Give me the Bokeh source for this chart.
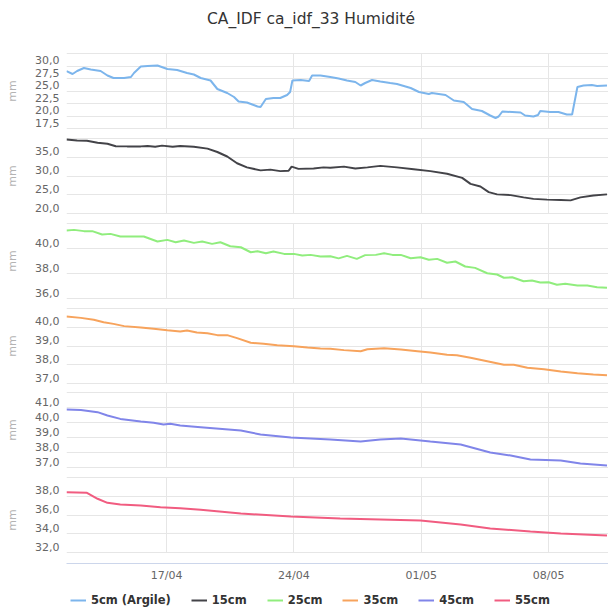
import pandas as pd
from bokeh.plotting import figure
from bokeh.layouts import column
from bokeh.models import (Range1d, FixedTicker, Grid, DatetimeTickFormatter,
                          CustomJSTickFormatter, Legend, LegendItem, Label)
from bokeh.embed import file_html
from bokeh.resources import INLINE

TITLE = "CA_IDF ca_idf_33 Humidité"
names = ["5cm (Argile)", "15cm", "25cm", "35cm", "45cm", "55cm"]
colors = ["#7cb5ec", "#434348", "#90ed7d", "#f7a35c", "#8085e9", "#f15c80"]
tick_dates = ["2023-04-17", "2023-04-24", "2023-05-01", "2023-05-08"]
tick_labels = ["17/04", "24/04", "01/05", "08/05"]
x_start, x_end = "2023-04-11 12:00", "2023-05-11 07:00"

t_5 = ["2023-04-11 12:00", "2023-04-11 20:00", "2023-04-12 02:00", "2023-04-12 11:00", "2023-04-12 20:00",
       "2023-04-13 09:00", "2023-04-13 18:00", "2023-04-14 02:00", "2023-04-14 16:00", "2023-04-15 01:00",
       "2023-04-15 05:00", "2023-04-15 14:00", "2023-04-15 23:00", "2023-04-16 12:00", "2023-04-17 01:00",
       "2023-04-17 14:00", "2023-04-18 03:00", "2023-04-18 12:00", "2023-04-18 21:00", "2023-04-19 10:00",
       "2023-04-19 19:00", "2023-04-20 08:00", "2023-04-20 17:00", "2023-04-20 23:00", "2023-04-21 10:00",
       "2023-04-22 00:00", "2023-04-22 04:00", "2023-04-22 11:00", "2023-04-22 21:00", "2023-04-23 06:00",
       "2023-04-23 15:00", "2023-04-23 19:00", "2023-04-23 22:00", "2023-04-24 09:00", "2023-04-24 20:00",
       "2023-04-25 00:00", "2023-04-25 11:00", "2023-04-26 00:00", "2023-04-26 11:00", "2023-04-26 22:00",
       "2023-04-27 09:00", "2023-04-27 16:00", "2023-04-27 22:00", "2023-04-28 07:00", "2023-04-28 18:00",
       "2023-04-29 07:00", "2023-04-29 16:00", "2023-04-30 10:00", "2023-04-30 21:00", "2023-05-01 10:00",
       "2023-05-01 14:00", "2023-05-02 08:00", "2023-05-02 19:00", "2023-05-03 08:00", "2023-05-03 19:00",
       "2023-05-04 08:00", "2023-05-04 19:00", "2023-05-05 02:00", "2023-05-05 06:00", "2023-05-05 11:00",
       "2023-05-06 00:00", "2023-05-06 11:00", "2023-05-06 17:00", "2023-05-07 04:00", "2023-05-07 10:00",
       "2023-05-07 13:00", "2023-05-08 02:00", "2023-05-08 13:00", "2023-05-09 00:00", "2023-05-09 07:00",
       "2023-05-09 14:00", "2023-05-09 22:00", "2023-05-10 09:00", "2023-05-10 16:00", "2023-05-11 05:00"]
v_5 = [28.96, 28.4, 29.0, 29.6, 29.3, 29.0, 28.1, 27.6, 27.6, 27.8,
       28.6, 29.9, 30.0, 30.1, 29.4, 29.2, 28.6, 28.3, 27.6, 27.1,
       25.4, 24.6, 23.8, 22.9, 22.7, 21.9, 21.8, 23.4, 23.6, 23.6,
       24.2, 24.8, 27.1, 27.2, 27.0, 28.1, 28.1, 27.8, 27.5, 27.1,
       26.8, 26.1, 26.6, 27.2, 26.9, 26.6, 26.4, 25.6, 24.8, 24.4,
       24.6, 24.2, 23.1, 22.8, 21.4, 21.0, 20.1, 19.6, 19.9, 20.9,
       20.8, 20.7, 20.1, 19.9, 20.2, 21.0, 20.8, 20.8, 20.3, 20.3,
       25.8, 26.1, 26.2, 26.0, 26.1]

t_15 = ["2023-04-11 12:00", "2023-04-12 02:00", "2023-04-12 15:00", "2023-04-13 05:00", "2023-04-13 18:00",
        "2023-04-14 05:00", "2023-04-14 20:00", "2023-04-15 14:00", "2023-04-15 23:00", "2023-04-16 09:00",
        "2023-04-16 18:00", "2023-04-17 08:00", "2023-04-17 18:00", "2023-04-18 12:00", "2023-04-19 06:00",
        "2023-04-19 19:00", "2023-04-20 08:00", "2023-04-20 21:00", "2023-04-21 10:00", "2023-04-22 04:00",
        "2023-04-22 17:00", "2023-04-23 06:00", "2023-04-23 17:00", "2023-04-23 21:00", "2023-04-24 06:00",
        "2023-04-25 02:00", "2023-04-25 15:00", "2023-04-26 00:00", "2023-04-26 18:00", "2023-04-27 09:00",
        "2023-04-28 01:00", "2023-04-28 18:00", "2023-04-29 16:00", "2023-04-30 14:00", "2023-05-01 12:00",
        "2023-05-02 10:00", "2023-05-03 06:00", "2023-05-03 17:00", "2023-05-04 06:00", "2023-05-04 17:00",
        "2023-05-05 04:00", "2023-05-05 22:00", "2023-05-06 15:00", "2023-05-07 04:00", "2023-05-07 22:00",
        "2023-05-08 16:00", "2023-05-09 05:00", "2023-05-09 18:00", "2023-05-10 11:00", "2023-05-11 05:00"]
v_15 = [39.73, 39.47, 39.4, 38.85, 38.6, 37.95, 37.9, 37.9, 38.0, 37.8,
        38.1, 37.8, 38.0, 37.8, 37.3, 36.4, 35.2, 33.4, 32.3, 31.5,
        31.7, 31.3, 31.4, 32.5, 31.9, 32.0, 32.3, 32.2, 32.5, 32.0,
        32.3, 32.7, 32.3, 31.8, 31.3, 30.6, 29.5, 27.9, 27.2, 25.7,
        25.1, 24.9, 24.3, 23.9, 23.7, 23.6, 23.5, 24.3, 24.8, 25.1]

t_25 = ["2023-04-11 12:00", "2023-04-11 22:00", "2023-04-12 11:00", "2023-04-12 22:00", "2023-04-13 11:00",
        "2023-04-13 22:00", "2023-04-14 11:00", "2023-04-15 18:00", "2023-04-16 12:00", "2023-04-17 01:00",
        "2023-04-17 12:00", "2023-04-17 23:00", "2023-04-18 12:00", "2023-04-18 23:00", "2023-04-19 12:00",
        "2023-04-19 23:00", "2023-04-20 12:00", "2023-04-21 02:00", "2023-04-21 15:00", "2023-04-22 00:00",
        "2023-04-22 11:00", "2023-04-22 21:00", "2023-04-23 11:00", "2023-04-24 00:00", "2023-04-24 11:00",
        "2023-04-24 22:00", "2023-04-25 11:00", "2023-04-26 00:00", "2023-04-26 11:00", "2023-04-26 22:00",
        "2023-04-27 11:00", "2023-04-27 22:00", "2023-04-28 12:00", "2023-04-28 23:00", "2023-04-29 10:00",
        "2023-04-29 21:00", "2023-04-30 10:00", "2023-04-30 23:00", "2023-05-01 10:00", "2023-05-01 21:00",
        "2023-05-02 10:00", "2023-05-02 21:00", "2023-05-03 10:00", "2023-05-03 23:00", "2023-05-04 15:00",
        "2023-05-05 04:00", "2023-05-05 13:00", "2023-05-06 00:00", "2023-05-06 15:00", "2023-05-07 02:00",
        "2023-05-07 13:00", "2023-05-08 00:00", "2023-05-08 11:00", "2023-05-08 22:00", "2023-05-09 14:00",
        "2023-05-10 03:00", "2023-05-10 16:00", "2023-05-11 05:00"]
v_25 = [41.44, 41.49, 41.39, 41.39, 41.12, 41.17, 40.96, 40.96, 40.56, 40.69,
        40.5, 40.64, 40.45, 40.56, 40.37, 40.5, 40.18, 40.1, 39.7, 39.78,
        39.62, 39.76, 39.57, 39.57, 39.44, 39.49, 39.36, 39.38, 39.21, 39.41,
        39.17, 39.47, 39.49, 39.62, 39.49, 39.49, 39.22, 39.3, 39.1, 39.17,
        38.86, 38.96, 38.56, 38.45, 38.02, 37.92, 37.66, 37.7, 37.38, 37.44,
        37.28, 37.3, 37.1, 37.18, 37.04, 37.04, 36.9, 36.86]

t_35 = ["2023-04-11 12:00", "2023-04-12 07:00", "2023-04-13 00:00", "2023-04-13 13:00", "2023-04-14 02:00",
        "2023-04-14 16:00", "2023-04-15 14:00", "2023-04-16 07:00", "2023-04-17 01:00", "2023-04-17 18:00",
        "2023-04-18 03:00", "2023-04-18 16:00", "2023-04-19 06:00", "2023-04-19 19:00", "2023-04-20 08:00",
        "2023-04-20 21:00", "2023-04-21 15:00", "2023-04-22 08:00", "2023-04-23 02:00", "2023-04-24 00:00",
        "2023-04-24 18:00", "2023-04-25 11:00", "2023-04-26 00:00", "2023-04-26 18:00", "2023-04-27 16:00",
        "2023-04-28 01:00", "2023-04-28 23:00", "2023-04-29 21:00", "2023-04-30 19:00", "2023-05-01 12:00",
        "2023-05-02 10:00", "2023-05-02 23:00", "2023-05-03 17:00", "2023-05-04 15:00", "2023-05-05 13:00",
        "2023-05-06 02:00", "2023-05-06 20:00", "2023-05-07 18:00", "2023-05-08 16:00", "2023-05-09 14:00",
        "2023-05-10 11:00", "2023-05-11 05:00"]
v_35 = [40.57, 40.5, 40.4, 40.27, 40.18, 40.06, 39.99, 39.92, 39.84, 39.77,
        39.83, 39.72, 39.68, 39.58, 39.58, 39.42, 39.17, 39.12, 39.04, 38.99,
        38.92, 38.87, 38.85, 38.78, 38.72, 38.83, 38.88, 38.81, 38.72, 38.65,
        38.53, 38.51, 38.37, 38.19, 38.0, 38.0, 37.84, 37.76, 37.64, 37.55,
        37.48, 37.44]

t_45 = ["2023-04-11 12:00", "2023-04-12 07:00", "2023-04-13 05:00", "2023-04-13 18:00", "2023-04-14 11:00",
        "2023-04-15 14:00", "2023-04-16 07:00", "2023-04-16 20:00", "2023-04-17 05:00", "2023-04-17 18:00",
        "2023-04-18 21:00", "2023-04-21 02:00", "2023-04-22 04:00", "2023-04-23 20:00", "2023-04-26 00:00",
        "2023-04-27 16:00", "2023-04-28 18:00", "2023-04-29 21:00", "2023-05-01 12:00", "2023-05-03 04:00",
        "2023-05-04 19:00", "2023-05-05 22:00", "2023-05-07 00:00", "2023-05-08 16:00", "2023-05-09 18:00",
        "2023-05-11 05:00"]
v_45 = [40.87, 40.84, 40.69, 40.47, 40.24, 40.07, 39.98, 39.87, 39.91, 39.8,
        39.69, 39.47, 39.2, 39.0, 38.87, 38.73, 38.87, 38.93, 38.73, 38.53,
        38.0, 37.8, 37.53, 37.47, 37.27, 37.13]

t_55 = ["2023-04-11 12:00", "2023-04-12 15:00", "2023-04-13 05:00", "2023-04-13 18:00", "2023-04-14 11:00",
        "2023-04-15 14:00", "2023-04-16 16:00", "2023-04-17 18:00", "2023-04-18 21:00", "2023-04-21 02:00",
        "2023-04-23 20:00", "2023-04-26 13:00", "2023-04-28 18:00", "2023-04-30 23:00", "2023-05-03 04:00",
        "2023-05-04 19:00", "2023-05-07 00:00", "2023-05-08 16:00", "2023-05-11 05:00"]
v_55 = [38.43, 38.37, 37.73, 37.3, 37.12, 37.01, 36.83, 36.73, 36.55, 36.16,
        35.84, 35.63, 35.52, 35.41, 34.99, 34.56, 34.24, 34.03, 33.81]

yticks_5 = [17.5, 20, 22.5, 25, 27.5, 30, 32.5]
yticks_15 = [20, 25, 30, 35, 40]
yticks_25 = [36, 38, 40, 42]
yticks_35 = [37, 38, 39, 40, 41]
yticks_45 = [37, 38, 39, 40, 41, 42]
yticks_55 = [32, 34, 36, 38, 40]

series = [(t_5, v_5, yticks_5), (t_15, v_15, yticks_15), (t_25, v_25, yticks_25),
          (t_35, v_35, yticks_35), (t_45, v_45, yticks_45), (t_55, v_55, yticks_55)]

FONT = "DejaVu Sans"
GRID = "#e6e6e6"
BAND = 75            # pixel height of each panel's tick span
band_tops = [53, 138, 223, 308, 392, 477]
FRAME_W = 542
LEFT = 66
TITLE_H = 36
TITLE_CX = 310.5     # title centre on the page
LABEL_RAISE = 6      # y labels sit just above their grid line

x_ticks = [pd.Timestamp(d).value // 10**6 for d in tick_dates]
x_range = Range1d(pd.Timestamp(x_start), pd.Timestamp(x_end))


def strip(height):
    f = figure(frame_width=FRAME_W, frame_height=height, x_range=x_range, y_range=Range1d(0, 1),
               x_axis_location=None, y_axis_location=None, toolbar_location=None,
               output_backend="svg", min_border_left=LEFT, min_border_right=0,
               min_border_top=0, min_border_bottom=0, outline_line_color=None)
    f.xgrid.visible = False
    f.ygrid.visible = False
    return f


# --- title strip ---
head = strip(TITLE_H)
head.add_layout(Label(x=TITLE_CX - LEFT, y=TITLE_H - 18, x_units="screen", y_units="screen",
                      text=TITLE, text_font=FONT, text_font_size="15.5px", text_color="#333333",
                      text_align="center", text_baseline="middle"))
figs = [head]

for i, ((ts, vs, gt), name, color) in enumerate(zip(series, names, colors)):
    last = i == len(series) - 1
    lo, hi = min(gt), max(gt)
    ppu = BAND / (hi - lo)
    extra_bottom = 11 if last else 1
    y_range = Range1d(lo - extra_bottom / ppu, hi + 1 / ppu)
    frame_h = BAND + 1 + extra_bottom
    if i == 0:
        b_top = band_tops[0] - 1 - TITLE_H
    else:
        b_top = (band_tops[i] - 1) - (band_tops[i - 1] + BAND + 1)
    b_bot = 24 if last else 0
    p = figure(frame_width=FRAME_W, frame_height=frame_h, x_range=x_range, y_range=y_range,
               x_axis_type="datetime", x_axis_location="below" if last else None,
               toolbar_location=None, output_backend="svg",
               min_border_left=LEFT, min_border_right=0, min_border_top=b_top,
               min_border_bottom=b_bot, outline_line_color=None)
    p.xgrid.visible = False
    p.ygrid.visible = False
    p.add_layout(Grid(dimension=1, ticker=FixedTicker(ticks=gt),
                      grid_line_color=GRID, grid_line_width=1))
    p.add_layout(Grid(dimension=0, ticker=FixedTicker(ticks=x_ticks),
                      grid_line_color=GRID, grid_line_width=1, cross_bounds=(lo, hi)))
    off = LABEL_RAISE / ppu
    ax = p.yaxis[0]
    ax.ticker = FixedTicker(ticks=[t + off for t in gt[:-1]])
    ax.formatter = CustomJSTickFormatter(args=dict(off=off),
                                         code="return (tick - off).toFixed(1).replace('.', ',');")
    ax.axis_line_color = None
    ax.major_tick_line_color = None
    ax.minor_tick_line_color = None
    ax.major_tick_out = 0
    ax.major_tick_in = 0
    ax.minor_tick_out = 0
    ax.major_label_standoff = 7
    ax.major_label_text_font = FONT
    ax.major_label_text_font_size = "11px"
    ax.major_label_text_color = "#666666"
    ax.axis_label = "mm"
    ax.axis_label_text_font = FONT
    ax.axis_label_text_font_size = "11px"
    ax.axis_label_text_font_style = "normal"
    ax.axis_label_text_color = "#b3b3b3"
    ax.axis_label_standoff = 13

    p.line(x=pd.to_datetime(ts), y=vs, line_color=color, line_width=2)

    if last:
        xa = p.xaxis[0]
        xa.ticker = FixedTicker(ticks=x_ticks)
        xa.formatter = DatetimeTickFormatter(days="%d/%m", months="%d/%m", hours="%d/%m",
                                             years="%d/%m")
        xa.axis_line_color = "#ccd6eb"
        xa.axis_line_width = 1
        xa.major_tick_line_color = None
        xa.minor_tick_line_color = None
        xa.major_tick_out = 0
        xa.major_tick_in = 0
        xa.minor_tick_out = 0
        xa.major_label_standoff = 5
        xa.major_label_text_font = FONT
        xa.major_label_text_font_size = "11px"
        xa.major_label_text_color = "#666666"
    figs.append(p)

# --- legend strip ---
foot = strip(22)
items = []
for nm, c in zip(names, colors):
    r = foot.line(x=[pd.Timestamp(x_start)], y=[float("nan")], line_color=c, line_width=2)
    items.append(LegendItem(label=nm, renderers=[r]))
legend = Legend(items=items, orientation="horizontal", location=(4, 2),
                label_text_font=FONT, label_text_font_size="11.5px",
                label_text_font_style="bold", label_text_color="#333333",
                glyph_width=16, glyph_height=14, label_height=14,
                label_standoff=5, spacing=20, padding=0, margin=0,
                border_line_color=None, background_fill_alpha=0)
foot.add_layout(legend, "center")
figs.append(foot)

layout = column(*figs, spacing=0)
open("out.html", "w").write(file_html(layout, INLINE))
